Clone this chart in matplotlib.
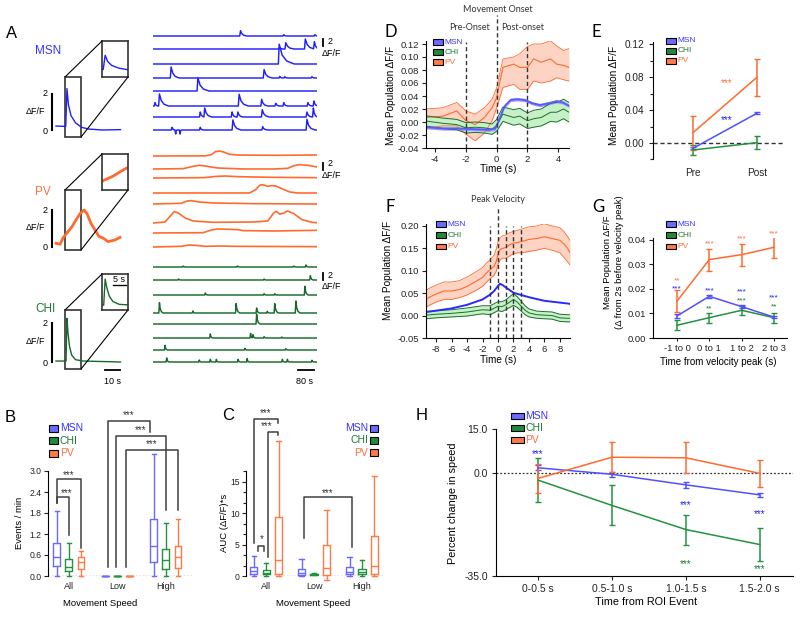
import numpy as np
import matplotlib.pyplot as plt
from matplotlib.patches import Rectangle, ConnectionPatch

plt.rcParams['font.family'] = ['Liberation Sans', 'DejaVu Sans']
plt.rcParams['axes.unicode_minus'] = False
plt.rcParams['axes.linewidth'] = 0.8
plt.rcParams['xtick.major.width'] = 0.8
plt.rcParams['ytick.major.width'] = 0.8
plt.rcParams['xtick.major.size'] = 3
plt.rcParams['ytick.major.size'] = 3
plt.rcParams['xtick.color'] = '#222222'
plt.rcParams['ytick.color'] = '#222222'

# ---------------- data ----------------
cell_names = ['MSN', 'CHI', 'PV']

# A: example traces, events (time s, peak dF/F, decay s)
msn_events = [
    [(435, 1.6, 30), (650, 0.4, 15), (805, 0.4, 12)],
    [(630, 0.5, 15), (660, 1.9, 40), (757, 3.0, 45), (802, 2.2, 25)],
    [(627, 5.9, 75)],
    [(90, 3.3, 40), (552, 2.5, 40), (630, 0.5, 15), (655, 0.4, 15), (790, 0.4, 15)],
    [(223, 3.9, 55)],
    [(10, 1.0, 15), (32, 3.6, 45), (428, 3.5, 45), (540, 2.0, 30), (610, 0.8, 20),
     (650, 1.0, 20), (770, 1.0, 20), (800, 1.5, 20)],
    [(235, 1.5, 20), (257, 2.7, 35), (393, 1.5, 20), (422, 1.5, 25), (543, 2.2, 35),
     (765, 1.5, 25), (797, 2.7, 20)],
    [(95, 0.8, 15), (113, -1.2, 6), (135, -1.2, 6), (235, 0.8, 15), (397, 3.0, 40),
     (545, 1.0, 25), (765, 3.2, 40)],
]
chi_events = [
    [(150, 0.3, 12), (420, 0.3, 12), (700, 0.3, 12), (760, 0.6, 12)],
    [(127, 0.3, 10), (552, 0.3, 10), (782, 1.3, 14)],
    [(260, 0.6, 12), (552, 0.4, 10), (605, 0.4, 10), (755, 2.6, 16)],
    [(32, 3.1, 18), (198, 0.6, 10), (413, 2.8, 18), (515, 1.5, 14), (568, 0.5, 10),
     (605, 2.8, 18), (710, 3.6, 20)],
    [(515, 3.0, 16)],
    [(285, 1.2, 12), (485, 1.4, 10), (497, 1.0, 12), (552, 0.4, 10), (640, 0.3, 10)],
    [(60, 1.4, 12), (457, 0.5, 10), (660, 0.4, 10)],
    [(68, 1.2, 12), (230, 0.6, 10), (285, 0.8, 10), (315, 0.8, 10), (423, 0.8, 10),
     (468, 1.0, 10), (643, 0.8, 10), (668, 0.8, 10), (790, 0.5, 10)],
]
pv_traces = [
    [(0, 0), (260, 0.05), (290, 0.4), (310, 1.3), (330, 1.5), (350, 1.2), (380, 0.5), (420, 0.3), (600, 0.2), (815, 0.3)],
    [(0, 0), (150, 0.1), (200, 0.8), (230, 1.1), (260, 0.9), (320, 0.3), (450, 0.0), (600, 0.0), (670, 0.2),
     (700, 1.0), (730, 1.3), (770, 1.1), (815, 0.6)],
    [(0, 0), (250, 0.1), (320, 0.5), (360, 0.6), (420, 0.4), (500, 0.3), (600, 0.2), (815, 0.1)],
    [(0, 0), (480, 0.0), (510, 1.0), (530, 2.3), (545, 2.5), (570, 2.0), (590, 2.2), (610, 2.1), (640, 1.3),
     (680, 0.3), (720, 0.0), (815, 0.0)],
    [(0, 0), (140, 0.2), (170, 0.9), (190, 1.0), (230, 0.6), (300, 0.3), (500, 0.1), (815, 0.0)],
    [(0, 0), (60, 0.3), (85, 2.0), (105, 3.4), (125, 3.0), (160, 1.5), (200, 0.6), (300, 0.2), (500, 0.3),
     (570, 0.6), (600, 3.0), (612, 3.5), (630, 2.6), (650, 3.0), (668, 3.6), (700, 2.8), (740, 1.0),
     (790, 0.2), (815, 0.1)],
    [(0, 0), (250, 0.1), (290, 0.9), (320, 1.2), (380, 1.1), (420, 1.0), (450, 0.7), (600, 0.6), (815, 0.8)],
    [(0, 0), (140, 0.2), (180, 0.6), (210, 0.5), (260, 0.2), (345, 0.3), (400, 0.2), (815, 0.1)],
]
msn_left = [(4, 0.22), (10.5, 0.2), (11.3, 2.3), (12.3, 1.4), (14, 0.8), (17, 0.4), (21, 0.15),
            (26, 0.05), (35, 0.0), (47, 0.02)]
pv_left = [(4, 0.2), (6.7, 0.15), (8.7, 0.49), (11.3, 0.76), (14.7, 1.1), (17.3, 1.46), (20, 1.8),
           (22.7, 2.0), (24.7, 1.8), (27.3, 1.28), (30, 0.92), (32.7, 0.56), (35.3, 0.49), (38.7, 0.29),
           (43.3, 0.38), (46.7, 0.52)]
chi_left = [(4, 0.05), (10.7, 0.05), (11.3, 2.24), (12, 1.5), (13, 0.8), (14.5, 0.35), (17, 0.12),
            (22, 0.05), (47, 0.0)]

# B: events / min (whislo, q1, med, q3, whishi)
b_groups = ['All', 'Low', 'High']
b_msn = [(0, 0.29, 0.55, 0.93, 1.87), (0, 0, 0, 0, 0), (0, 0.41, 0.86, 1.63, 3.48)]
b_chi = [(0, 0.15, 0.27, 0.49, 0.93), (0, 0, 0, 0, 0), (0, 0.19, 0.46, 0.77, 1.52)]
b_pv = [(0, 0.20, 0.41, 0.53, 0.72), (0, 0, 0, 0, 0), (0, 0.24, 0.55, 0.87, 1.62)]

# C: AUC
c_msn = [(0, 0.3, 0.85, 1.5, 3.2), (0, 0.15, 0.45, 1.1, 2.65), (0, 0.3, 0.7, 1.4, 3.1)]
c_chi = [(0, 0.25, 0.53, 0.9, 2.0), (0.1, 0.15, 0.25, 0.35, 0.4), (0, 0.25, 0.65, 1.1, 2.6)]
c_pv = [(0, 0.3, 2.55, 9.45, 21.5), (-0.65, 0.15, 1.2, 4.95, 10.5), (0, 0.3, 1.6, 6.4, 15.9)]

# D: movement onset
pv_d_t = [-4.6, -3.5, -2.6, -2.0, -1.4, -0.8, -0.3, 0.0, 0.4, 1.1, 1.5, 2.0, 2.4, 2.9, 3.5, 3.9, 4.35, 4.7]
pv_d_hi = [0.020, 0.022, 0.030, 0.017, 0.012, 0.022, 0.035, 0.053, 0.097, 0.100, 0.105, 0.116, 0.120, 0.120,
           0.125, 0.117, 0.110, 0.113]
pv_d_mean = [0.007, 0.009, 0.017, 0.002, -0.004, 0.007, 0.022, 0.038, 0.084, 0.089, 0.084, 0.084, 0.097,
             0.092, 0.097, 0.089, 0.087, 0.084]
pv_d_lo = [-0.009, -0.006, -0.006, -0.019, -0.029, -0.017, 0.002, 0.022, 0.053, 0.058, 0.050, 0.050, 0.063,
           0.060, 0.063, 0.068, 0.065, 0.063]
msn_d_t = [-4.6, -3.5, -2.5, -1.5, -0.5, -0.1, 0.2, 0.5, 0.9, 1.3, 1.8, 2.3, 2.8, 3.4, 3.9, 4.3, 4.7]
msn_d_mean = [-0.008, -0.010, -0.010, -0.011, -0.012, -0.010, 0.006, 0.024, 0.034, 0.035, 0.034, 0.029,
              0.026, 0.029, 0.032, 0.030, 0.025]
msn_d_err = [0.0025, 0.0025, 0.0025, 0.0025, 0.0025, 0.0025, 0.0025, 0.0025, 0.0025, 0.0025, 0.0025,
             0.0025, 0.0025, 0.0025, 0.0025, 0.0025, 0.0025]
chi_d_mean = [0.0015, -0.002, -0.004, -0.009, -0.008, -0.009, -0.011, -0.005, 0.012, 0.007, 0.009, 0.002,
              0.005, 0.007, 0.015, 0.015, 0.020, 0.015]
chi_d_err = [0.008, 0.008, 0.008, 0.008, 0.008, 0.008, 0.008, 0.009, 0.011, 0.012, 0.012, 0.012, 0.013,
             0.013, 0.014, 0.015, 0.015, 0.015]

# E: pre / post
e_labels = ['Pre', 'Post']
msn_e, msn_e_err = [-0.0065, 0.036], [0.0012, 0.0012]
chi_e, chi_e_err = [-0.0085, 0.0004], [0.006, 0.008]
pv_e, pv_e_err = [0.0125, 0.0796], [0.0205, 0.0225]

# F: peak velocity
pv_f_t = [-9.3, -9, -8, -7, -6, -5, -4, -3, -2, -1.5, -1, -0.5, -0.2, 0, 0.3, 0.6, 1, 1.5, 2, 2.5, 3, 4, 5,
          6, 7, 8, 8.5, 9, 9.3]
pv_f_mean = [0.035, 0.040, 0.048, 0.055, 0.055, 0.058, 0.065, 0.075, 0.085, 0.095, 0.103, 0.110, 0.122,
             0.138, 0.148, 0.150, 0.152, 0.158, 0.162, 0.163, 0.165, 0.170, 0.172, 0.176, 0.172, 0.168,
             0.160, 0.150, 0.140]
pv_f_hi = [0.055, 0.060, 0.068, 0.075, 0.075, 0.078, 0.086, 0.096, 0.107, 0.117, 0.125, 0.135, 0.150, 0.165,
           0.175, 0.178, 0.180, 0.185, 0.188, 0.190, 0.193, 0.198, 0.200, 0.205, 0.200, 0.196, 0.188,
           0.176, 0.168]
pv_f_lo = [0.018, 0.022, 0.030, 0.036, 0.036, 0.040, 0.046, 0.055, 0.065, 0.074, 0.083, 0.090, 0.100, 0.115,
           0.125, 0.128, 0.128, 0.133, 0.138, 0.140, 0.140, 0.143, 0.146, 0.150, 0.146, 0.140, 0.130,
           0.120, 0.113]
msn_f_t = [-9.3, -8, -6, -4, -2, -1, -0.5, 0, 0.25, 0.6, 1, 2, 3, 4, 5, 6, 7, 8, 9, 9.3]
msn_f_mean = [0.008, 0.011, 0.016, 0.024, 0.036, 0.047, 0.055, 0.066, 0.071, 0.068, 0.063, 0.051, 0.046,
              0.041, 0.037, 0.033, 0.031, 0.029, 0.027, 0.026]
chi_f_t = [-9.3, -8, -6, -4, -2, -1, 0, 0.5, 1, 1.5, 2, 2.5, 3, 3.5, 4, 5, 6, 7, 8, 9, 9.3]
chi_f_mean = [0.001, 0.003, 0.005, 0.008, 0.013, 0.012, 0.021, 0.020, 0.024, 0.030, 0.036, 0.030, 0.021,
              0.012, 0.006, 0.002, 0.001, 0.000, -0.005, -0.006, -0.006]
chi_f_err = [0.008, 0.008, 0.008, 0.009, 0.009, 0.010, 0.010, 0.011, 0.011, 0.012, 0.013, 0.012, 0.011,
             0.010, 0.009, 0.008, 0.008, 0.008, 0.008, 0.008, 0.008]

# G: change from baseline
g_labels = ['-1 to 0', '0 to 1', '1 to 2', '2 to 3']
pv_g, pv_g_err = [0.015, 0.032, 0.034, 0.037], [0.0045, 0.0045, 0.0045, 0.0045]
msn_g, msn_g_err = [0.009, 0.017, 0.0128, 0.0085], [0.0007, 0.0005, 0.0005, 0.0005]
chi_g, chi_g_err = [0.0052, 0.0083, 0.0113, 0.0083], [0.002, 0.002, 0.0018, 0.002]

# H: speed change
h_labels = ['0-0.5 s', '0.5-1.0 s', '1.0-1.5 s', '1.5-2.0 s']
msn_h, msn_h_err = [1.8, -0.4, -4.0, -7.4], [0.8, 0.8, 1.0, 0.8]
chi_h, chi_h_err = [-2.4, -11.0, -19.2, -24.3], [7.5, 6.8, 5.1, 5.6]
pv_h, pv_h_err = [-1.8, 5.4, 5.2, -0.1], [5.0, 5.1, 5.3, 4.5]

# ---------------- styling ----------------
MSN_T, CHI_T, PV_T = '#3434ff', '#1d7a33', '#ff7040'
MSN_F, CHI_F, PV_F = '#6a6aff', '#1e8a3c', '#ff7a45'
MSN_L, CHI_L, PV_L = '#5050ff', '#22923e', '#ff6a2e'
text_cols = [MSN_T, CHI_T, PV_T]
box_cols = [MSN_F, CHI_F, PV_F]
GRAY = '#404040'

W, H = 800, 617
fig = plt.figure(figsize=(8, 6.17), dpi=100)


def ax_px(x0, y0, x1, y1):
    return fig.add_axes([x0 / W, 1 - y1 / H, (x1 - x0) / W, (y1 - y0) / H])


def txt(x, y, s, **kw):
    kw.setdefault('ha', 'center')
    kw.setdefault('va', 'center')
    fig.text(x / W, 1 - y / H, s, **kw)


def legend_px(x, y0, dy, bw, bh, fs, text_first=False, gap=2):
    for i, (name, tc, fc) in enumerate(zip(cell_names, text_cols, box_cols)):
        y = y0 + i * dy
        if text_first:
            txt(x - gap, y, name, ha='right', color=tc, fontsize=fs)
        else:
            txt(x + bw + gap, y, name, ha='left', color=tc, fontsize=fs)
        fig.add_artist(Rectangle((x / W, 1 - (y + bh / 2) / H), bw / W, bh / H,
                                 transform=fig.transFigure, fc=fc, ec='k', lw=0.8))


def stars(ax, x, y, s, color='#333333', fs=7):
    ax.annotate(s, (x, y), xytext=(0, -0.55 * fs), textcoords='offset points', ha='center',
                va='baseline', color=color, fontsize=fs, annotation_clip=False)


def bracket(ax, x1, x2, y, y1, y2):
    ax.plot([x1, x1, x2, x2], [y1, y, y, y2], color=GRAY, lw=1.1, clip_on=False)


def spike_trace(events, t_end, rise):
    kt_all = [0.0, t_end]
    parts = []
    for t0, amp, dur in events:
        kt = [t0 - rise, t0, t0 + 0.2 * dur, t0 + 0.5 * dur, t0 + dur]
        kv = [0.0, amp, 0.45 * amp, 0.15 * amp, 0.0]
        parts.append((kt, kv))
        kt_all += kt
    t = np.unique(np.clip(kt_all, 0, t_end))
    y = np.zeros_like(t)
    for kt, kv in parts:
        y += np.interp(t, kt, kv, left=0, right=0)
    return t, y


def clean(ax, left=True, bottom=True):
    ax.spines['top'].set_visible(False)
    ax.spines['right'].set_visible(False)
    ax.spines['left'].set_visible(left)
    ax.spines['bottom'].set_visible(bottom)
    ax.patch.set_alpha(0)


# ---------------- panel A ----------------
SCL = 3.35
axR = ax_px(153, 20, 317, 375)
axR.set_xlim(0, 815)
axR.set_ylim(0, 355 / SCL)
axR.axis('off')


def row(ypx):
    return (375 - ypx) / SCL


for ev, r in zip(msn_events, [36, 49, 64, 78, 91, 106, 117, 130]):
    t, y = spike_trace(ev, 815, 4)
    axR.plot(t, y + row(r), color='#1f1fff', lw=1.05)
for pts, r in zip(pv_traces, [156, 169, 178, 193, 204, 223, 233, 247]):
    t = [p[0] for p in pts]
    y = [p[1] + row(r) for p in pts]
    axR.plot(t, y, color='#ff6a2e', lw=1.2)
for ev, r in zip(chi_events, [267, 280, 295, 313, 324, 338, 350, 362]):
    t, y = spike_trace(ev, 815, 3)
    axR.plot(t, y + row(r), color='#16692b', lw=1.05)

for yb, yt in [(46, 42), (170, 164), (280, 276)]:
    axR.plot([845, 845], [row(yb), row(yb) + 2], color='k', lw=1.3, clip_on=False)
    txt(330, yt, '2', fontsize=6.5)
    txt(331, yt + 11, 'ΔF/F', fontsize=6.5)
axR.plot([720, 800], [row(370), row(370)], color='k', lw=1.3, clip_on=False)
txt(305, 381, '80 s', fontsize=6.5)

left_specs = [
    (msn_left, '#1f1fff', (75, 140, 130, 18.0), (77, 137), (41, 77), (-0.9, 4.4), 1.0, 'MSN', MSN_T, 51),
    (pv_left, '#ff6a2e', (185, 255, 247, 18.5), (190, 250), (154, 190), None, 2.0, 'PV', PV_T, 192),
    (chi_left, '#16692b', (305, 372, 362, 19.5), (310, 369), (274, 310), None, 1.0, 'CHI', CHI_T, 309),
]
for pts, col, (ya, yb, y0, sc), (bt, bb), (it, ib), ilim, lw, name, tcol, ny in left_specs:
    axL = ax_px(50, ya, 125, yb)
    axL.set_xlim(0, 50)
    axL.set_ylim(-(yb - y0) / sc, (y0 - ya) / sc)
    axL.axis('off')
    axL.plot([p[0] for p in pts], [p[1] for p in pts], color=col, lw=lw)
    axL.plot([1.3, 1.3], [0, 2], color='k', lw=1.5, clip_on=False)
    ylo, yhi = (y0 - bb) / sc, (y0 - bt) / sc
    axL.add_patch(Rectangle((10, ylo), 10.7, yhi - ylo, fill=False, ec='#333333', lw=1.2, clip_on=False))
    axI = ax_px(102, it, 128, ib)
    axI.plot([p[0] for p in pts], [p[1] for p in pts], color=col, lw=lw)
    axI.set_xlim(10, 20.7)
    axI.set_ylim(ilim if ilim else (ylo, yhi))
    axI.set_xticks([])
    axI.set_yticks([])
    for s in axI.spines.values():
        s.set_color('#333333')
        s.set_linewidth(1.2)
    for xa, xb in [((10, yhi), (0, 1)), ((20.7, ylo), (1, 0))]:
        fig.add_artist(ConnectionPatch(xyA=xa, coordsA='data', axesA=axL, xyB=xb,
                                       coordsB='axes fraction', axesB=axI, color='k', lw=0.8))
    txt(45, y0 - 2 * sc, '2', fontsize=6.5)
    txt(45, y0 + 1, '0', fontsize=6.5)
    txt(36, y0 - sc * 1.05, 'ΔF/F', fontsize=6.5)
    txt(35, ny, name, ha='left', color=tcol, fontsize=8.5)
    if name == 'CHI':
        axI.plot([0.43, 0.92], [0.69, 0.69], color='k', lw=1.0, transform=axI.transAxes)
        axI.text(0.67, 0.86, '5 s', transform=axI.transAxes, ha='center', va='center', fontsize=6.5)
        axL.plot([36.7, 46.7], [-0.41, -0.41], color='k', lw=1.3, clip_on=False)
        txt(112, 381, '10 s', fontsize=6.5)

txt(12, 34, 'A', fontsize=12)

# ---------------- panel B ----------------
offs = [-0.25, 0.0, 0.25]


def draw_boxes(ax, groups, width):
    for k, (data, col) in enumerate(zip(groups, [MSN_F, CHI_L, PV_F])):
        for g, (lo, q1, med, q3, hi) in enumerate(data):
            st = dict(whislo=lo, q1=q1, med=med, q3=q3, whishi=hi, fliers=[])
            res = ax.bxp([st], positions=[g + offs[k]], widths=width, showfliers=False,
                         capwidths=width * 0.6, manage_ticks=False,
                         boxprops=dict(color=col, lw=1.0), whiskerprops=dict(color=col, lw=1.0),
                         capprops=dict(color=col, lw=1.0), medianprops=dict(color=col, lw=1.0))
            for arts in res.values():
                for a in arts:
                    a.set_clip_on(False)


axB = ax_px(48, 415, 193, 576)
clean(axB, bottom=False)
axB.set_xlim(-0.43, 2.56)
axB.set_ylim(0, 4.6)
axB.spines['left'].set_bounds(0, 3.0)
axB.set_yticks([0, 0.6, 1.2, 1.8, 2.4, 3.0])
axB.set_yticklabels(['0.0', '0.6', '1.2', '1.8', '2.4', '3.0'])
axB.set_xticks([0, 1, 2])
axB.set_xticklabels(b_groups)
axB.tick_params(axis='x', length=0, pad=4, labelsize=6.5)
axB.tick_params(axis='y', labelsize=6.2, pad=1.5)
axB.axhline(0, color='#333333', lw=0.9, ls=(0, (1.2, 1.5)))
draw_boxes(axB, [b_msn, b_chi, b_pv], 0.14)
bracket(axB, -0.25, 0.25, 2.77, 2.08, 0.79)
bracket(axB, -0.25, 0.0, 2.27, 2.08, 1.17)
stars(axB, 0.0, 2.94, '***')
stars(axB, -0.05, 2.44, '***')
bracket(axB, 0.80, 1.67, 4.44, 0.25, 4.11)
bracket(axB, 0.98, 2.0, 4.01, 0.25, 1.88)
bracket(axB, 1.18, 2.25, 3.6, 0.25, 1.88)
stars(axB, 1.24, 4.66, '***')
stars(axB, 1.48, 4.23, '***')
stars(axB, 1.71, 3.84, '***')
txt(20, 523, 'Events / min', rotation=90, fontsize=6.8)
txt(100, 603, 'Movement Speed', fontsize=6.8)
legend_px(49, 428, 12.5, 9, 7, 7.5)
txt(10, 417, 'B', fontsize=12)

# ---------------- panel C ----------------
axC = ax_px(246, 412.7, 385, 576)
clean(axC, bottom=False)
axC.set_xlim(-0.42, 2.48)
axC.set_ylim(0, 26)
axC.spines['left'].set_bounds(0, 16.67)
axC.set_yticks([0, 5, 10, 15])
axC.set_yticks([5 / 3, 10 / 3, 20 / 3, 25 / 3, 35 / 3, 40 / 3, 50 / 3], minor=True)
axC.tick_params(axis='y', which='minor', length=2, width=0.8)
axC.set_xticks([0, 1, 2])
axC.set_xticklabels(b_groups)
axC.tick_params(axis='x', length=0, pad=4, labelsize=6.5)
axC.tick_params(axis='y', labelsize=6.2, pad=1.5)
axC.axhline(0, color='#333333', lw=0.9, ls=(0, (1.2, 1.5)))
offs = [-0.26, 0.0, 0.26]
draw_boxes(axC, [c_msn, c_chi, c_pv], 0.15)
bracket(axC, -0.25, 0.25, 25.0, 5.25, 24.4)
bracket(axC, 0.04, 0.25, 23.0, 3.07, 22.45)
bracket(axC, -0.17, -0.04, 4.78, 4.03, 4.03)
bracket(axC, 0.79, 1.79, 12.5, 6.0, 4.67)
stars(axC, 0.0, 26.3, '***')
stars(axC, 0.02, 24.2, '***')
stars(axC, -0.10, 6.2, '*')
stars(axC, 1.29, 13.6, '***')
txt(224, 523, 'AUC (ΔF/F)*s', rotation=90, fontsize=6.8)
txt(313, 603, 'Movement Speed', fontsize=6.8)
legend_px(370, 428, 12.4, 8, 7, 7.5, text_first=True)
txt(228, 415, 'C', fontsize=12)

# ---------------- panel D ----------------
DASH = dict(color='#333333', lw=1.0, ls=(0, (3, 2)))
axD = ax_px(426, 40.75, 569, 148)
clean(axD)
axD.set_xlim(-4.6, 4.7)
axD.set_ylim(-0.04, 0.125)
axD.fill_between(pv_d_t, pv_d_lo, pv_d_hi, color='#fdd3c3', lw=0)
for s in (pv_d_lo, pv_d_hi):
    axD.plot(pv_d_t, s, color='#ff6a2e', lw=0.6)
axD.plot(pv_d_t, pv_d_mean, color='#ff6a2e', lw=0.8)
chi_lo = [m - e for m, e in zip(chi_d_mean, chi_d_err)]
chi_hi = [m + e for m, e in zip(chi_d_mean, chi_d_err)]
axD.fill_between(pv_d_t, chi_lo, chi_hi, color='#c6f0c6', lw=0)
for s in (chi_lo, chi_hi, chi_d_mean):
    axD.plot(pv_d_t, s, color='#1c6e2e', lw=0.7)
msn_lo = [m - e for m, e in zip(msn_d_mean, msn_d_err)]
msn_hi = [m + e for m, e in zip(msn_d_mean, msn_d_err)]
axD.fill_between(msn_d_t, msn_lo, msn_hi, color='#9a9aff', lw=0)
axD.plot(msn_d_t, msn_d_mean, color='#5a5aff', lw=1.3)
axD.plot([-2, -2], [-0.04, 0.123], **DASH)
axD.plot([2, 2], [-0.04, 0.123], **DASH)
axD.plot([0, 0], [-0.04, 0.165], clip_on=False, **DASH)
axD.set_yticks([-0.04, -0.02, 0, 0.02, 0.04, 0.06, 0.08, 0.10, 0.12])
axD.set_yticklabels(['-0.04', '-0.02', '0.00', '0.02', '0.04', '0.06', '0.08', '0.10', '0.12'])
axD.set_xticks([-4, -2, 0, 2, 4])
axD.tick_params(labelsize=6.8, pad=2)
txt(498, 169, 'Time (s)', fontsize=7.2)
txt(391, 95, 'Mean Population ΔF/F', rotation=90, fontsize=7.2)
txt(498, 9, 'Movement Onset', fontsize=6.5, family='Lato', color='#333333')
txt(470, 28, 'Pre-Onset', fontsize=6.5, family='Lato', color='#333333')
txt(523, 28, 'Post-onset', fontsize=6.5, family='Lato', color='#333333')
legend_px(433, 42, 10, 9.5, 5.5, 6)
txt(391, 32, 'D', fontsize=12, family='Lato')

# ---------------- panel E ----------------
axE = ax_px(653, 39.9, 785, 159.5)
clean(axE, bottom=False)
axE.set_xlim(-0.625, 1.44)
axE.set_ylim(-0.02, 0.125)
axE.spines['left'].set_bounds(-0.02, 0.123)
axE.axhline(0, **DASH)
ex = [0, 1]
for vals, err, col in [(chi_e, chi_e_err, CHI_L), (msn_e, msn_e_err, MSN_L), (pv_e, pv_e_err, PV_L)]:
    axE.errorbar(ex, vals, yerr=err, color=col, lw=1.1, capsize=2.5, capthick=1.0, elinewidth=1.1)
axE.set_yticks([0, 0.04, 0.08, 0.12])
axE.set_yticklabels(['0.00', '0.04', '0.08', '0.12'])
axE.set_yticks([-0.02, 0.02, 0.06, 0.10], minor=True)
axE.tick_params(axis='y', which='minor', length=2, width=0.8)
axE.set_xticks(ex)
axE.set_xticklabels(e_labels)
axE.tick_params(axis='x', length=0, pad=6)
axE.tick_params(labelsize=7.2)
stars(axE, 0.52, 0.076, '***', color=PV_T, fs=7)
stars(axE, 0.52, 0.031, '***', color='#2222ff', fs=7)
txt(614, 95, 'Mean Population ΔF/F', rotation=90, fontsize=7.2)
legend_px(666, 41, 10, 9.5, 5.5, 6)
txt(596, 32, 'E', fontsize=12, family='Lato')

# ---------------- panel F ----------------
axF = ax_px(426, 223.75, 570, 338)
clean(axF)
axF.set_xlim(-9.3, 9.3)
axF.set_ylim(-0.05, 0.205)
axF.fill_between(pv_f_t, pv_f_lo, pv_f_hi, color='#fdd3c3', lw=0)
for s in (pv_f_lo, pv_f_hi):
    axF.plot(pv_f_t, s, color='#ff6a2e', lw=0.6)
axF.plot(pv_f_t, pv_f_mean, color='#ff6a2e', lw=0.8)
chf_lo = [m - e for m, e in zip(chi_f_mean, chi_f_err)]
chf_hi = [m + e for m, e in zip(chi_f_mean, chi_f_err)]
axF.fill_between(chi_f_t, chf_lo, chf_hi, color='#c6f0c6', lw=0)
for s in (chf_lo, chf_hi, chi_f_mean):
    axF.plot(chi_f_t, s, color='#1c6e2e', lw=0.7)
axF.plot(msn_f_t, msn_f_mean, color='#2a2aff', lw=1.4)
for xv in [-1, 1, 2, 3]:
    axF.plot([xv, xv], [-0.05, 0.2], **DASH)
axF.plot([0, 0], [-0.05, 0.24], clip_on=False, **DASH)
axF.set_yticks([-0.05, 0, 0.05, 0.10, 0.15, 0.20])
axF.set_yticklabels(['-0.05', '0.00', '0.05', '0.10', '0.15', '0.20'])
axF.set_xticks([-8, -6, -4, -2, 0, 2, 4, 6, 8])
axF.tick_params(labelsize=6.8, pad=2)
txt(498, 360, 'Time (s)', fontsize=7.2)
txt(388, 270, 'Mean Population ΔF/F', rotation=90, fontsize=7.2)
txt(498, 200, 'Peak Velocity', fontsize=6.5, family='Lato', color='#333333')
legend_px(436, 224, 11.2, 9.5, 5.5, 6)
txt(390, 207, 'F', fontsize=12, family='Lato')

# ---------------- panel G ----------------
axG = ax_px(653, 237.5, 787, 338)
clean(axG)
axG.set_xlim(-0.74, 3.4)
axG.set_ylim(0, 0.041)
gx = [0, 1, 2, 3]
for vals, err, col in [(chi_g, chi_g_err, CHI_L), (msn_g, msn_g_err, MSN_L), (pv_g, pv_g_err, PV_L)]:
    axG.errorbar(gx, vals, yerr=err, color=col, lw=1.1, capsize=2.5, capthick=1.0, elinewidth=1.1)
axG.set_yticks([0, 0.01, 0.02, 0.03, 0.04])
axG.set_yticklabels(['0.00', '0.01', '0.02', '0.03', '0.04'])
axG.set_xticks(gx)
axG.set_xticklabels(g_labels)
axG.tick_params(labelsize=6.8, pad=2)
axG.tick_params(axis='x', length=2)
for x, y, s in [(0, 0.0246, '**'), (1, 0.0396, '***'), (2, 0.0416, '***'), (3, 0.0438, '***')]:
    stars(axG, x, y, s, color=PV_T, fs=6)
for x, y in [(0, 0.0213), (1, 0.0204), (2, 0.0202), (3, 0.0176)]:
    stars(axG, x, y, '***', color='#2222ff', fs=6)
for x, y, s in [(1, 0.0131, '**'), (2, 0.0166, '***'), (3, 0.0139, '**')]:
    stars(axG, x, y, s, color=CHI_T, fs=6)
txt(718, 362, 'Time from velocity peak (s)', fontsize=7.0)
txt(607, 262, 'Mean Population ΔF/F', rotation=90, fontsize=6.8)
txt(619, 262, '(Δ from 2s before velocity peak)', rotation=90, fontsize=6.8)
legend_px(666, 224, 11.2, 9.5, 5.5, 6)
txt(598, 207, 'G', fontsize=12, family='Lato')

# ---------------- panel H ----------------
axH = ax_px(496, 429, 793, 576)
clean(axH)
axH.set_xlim(-0.57, 3.45)
axH.set_ylim(-35, 15)
axH.axhline(0, color='#333333', lw=0.9, ls=(0, (1.5, 1.5)))
hx = [0, 1, 2, 3]
for vals, err, col in [(chi_h, chi_h_err, CHI_L), (msn_h, msn_h_err, MSN_L), (pv_h, pv_h_err, PV_L)]:
    axH.errorbar(hx, vals, yerr=err, color=col, lw=1.1, capsize=2.5, capthick=1.0, elinewidth=1.1)
axH.set_yticks([-35, 0, 15])
axH.set_yticklabels(['-35.0', '0.0', '15.0'])
axH.set_xticks(hx)
axH.set_xticklabels(h_labels)
axH.tick_params(labelsize=7.5, pad=3)
for x, y in [(0, 7.3), (2, -10.2), (3, -13.0)]:
    stars(axH, x, y, '***', color='#2222ff', fs=7)
for x, y in [(2, -30.3), (3, -31.8)]:
    stars(axH, x, y, '***', color=CHI_T, fs=7)
txt(646, 602, 'Time from ROI Event', fontsize=7.8)
txt(453, 503, 'Percent change in speed', rotation=90, fontsize=7.8)
legend_px(511, 416, 12, 12.5, 6.5, 7.5)
txt(422, 416, 'H', fontsize=12)

fig.savefig('out.png', dpi=100, facecolor='white')
